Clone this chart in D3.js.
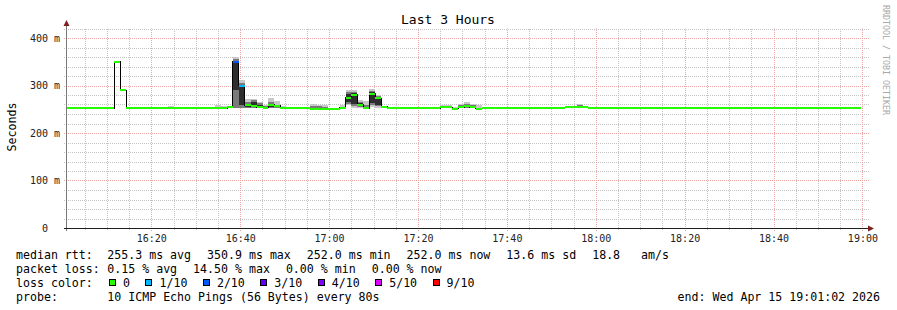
<!DOCTYPE html>
<html>
<head>
<meta charset="utf-8">
<script src="https://cdn.jsdelivr.net/npm/d3@7"></script>
<style>
  body { margin: 0; background: #fff; }
  svg { display: block; font-family: "DejaVu Sans Mono", monospace; }
</style>
</head>
<body>
<div id="chart"></div>
<script>
// chart data
const title = "Last 3 Hours";
const yTitle = "Seconds";
const endTime = new Date(2026, 3, 15, 19, 1, 2);
const stepSeconds = 80;

// median rtt per 80s step (ms)
const median = [
  252, 252, 252, 252, 252, 252, 252, 252, 350, 290,
  252, 252, 252, 252, 252, 252, 252, 252, 252, 252,
  252, 252, 252, 252, 252, 252, 252, 254, 350, 300,
  258, 256, 254, 253, 260, 257, 253, 252, 253, 253,
  252, 251, 251, 251, 251, 251, 253, 274, 281, 260,
  252, 283, 273, 255, 252, 252, 252, 252, 252, 252,
  252, 252, 252, 254, 254, 251, 254, 257, 254, 251,
  252, 252, 252, 252, 252, 252, 252, 252, 252, 252,
  252, 252, 252, 252, 254, 254, 254, 254, 252, 252,
  252, 252, 252, 252, 252, 252, 252, 252, 252, 252,
  252, 252, 252, 252, 252, 252, 252, 252, 252, 252,
  252, 252, 252, 252, 252, 252, 252, 252, 252, 252,
  252, 252, 252, 252, 252, 252, 252, 252, 252, 252,
  252, 252, 252, 252
];

// steps with lost pings (out of 10)
const lossSteps = [28, 29];
const lossCounts = [2, 1];

// smoke: spread of the pings for each step that has some
const smokeSteps = [17, 25, 26, 27, 28, 29, 30, 31, 32, 33, 34, 35, 36, 41, 42, 43, 46, 47, 48, 49, 50, 51, 52, 53, 63, 64, 65, 66, 67, 68, 69, 82, 85, 86, 100, 120];
const smokeLo = [252, 252, 252, 252, 252, 252, 252, 252, 252, 252, 252, 252, 252, 251, 251, 251, 252, 259, 252, 252, 251, 255, 253, 252, 252, 252, 251, 252, 252, 252, 251, 252, 252, 252, 252, 252];
const smokeHi = [257, 259, 256, 256, 360, 311, 272, 272, 266, 260, 274, 268, 256, 261, 260, 259, 258, 290, 290, 270, 267, 292, 281, 257, 260, 260, 255, 262, 266, 262, 260, 255, 256, 261, 255, 255];
const midLo = [null, null, null, null, 252, 253, 253, 252, 253, 252, 253, 253, null, 251, 251, 251, null, 262, 256, 254, 252, 258, 256, null, 253, 253, null, 253, 253, 253, null, null, null, 253, null, null];
const midHi = [null, null, null, null, 356, 306, 266, 270, 264, 257, 265, 260, null, 256, 256, 255, null, 287, 287, 266, 260, 289, 278, null, 257, 257, null, 259, 262, 259, null, null, null, 258, null, null];
const coreLo = [null, null, null, null, 290, 258, 255, 254, 254, null, 255, null, null, null, null, null, null, 266, 262, 256, null, 263, 260, null, null, null, null, null, 255, null, null, null, null, null, null, null];
const coreHi = [null, null, null, null, 352, 301, 262, 266, 260, null, 259, null, null, null, null, null, null, 282, 284, 263, null, 286, 276, null, null, null, null, null, 259, null, null, null, null, null, null, null];

const yTicks = [0, 100, 200, 300, 400];
const yTickLabels = ["0", "100 m", "200 m", "300 m", "400 m"];

const lossLabels = ["0", "1/10", "2/10", "3/10", "4/10", "5/10", "9/10"];
const lossLevels = [0, 1, 2, 3, 4, 5, 9];
const lossColors = ["#26ff00", "#00b8ff", "#0059ff", "#5e00ff", "#7e00ff", "#dd00ff", "#ff0000"];

const rttStats = ["255.3 ms avg", "350.9 ms max", "252.0 ms min", "252.0 ms now", "13.6 ms sd", "18.8   am/s"];
const lossStats = ["0.15 % avg", "14.50 % max", "0.00 % min", "0.00 % now"];
const probeText = "10 ICMP Echo Pings (56 Bytes) every 80s";
const endText = "end: Wed Apr 15 19:01:02 2026";
const watermark = "RRDTOOL / TOBI OETIKER";

// layout
const W = 897, H = 310;
const plot = { left: 67, right: 867, top: 28.5, bottom: 228 };

const svg = d3.select("#chart").append("svg")
  .attr("width", W)
  .attr("height", H);

svg.append("rect").attr("width", W).attr("height", H).attr("fill", "#fff");

const t0 = d3.timeSecond.offset(endTime, -3 * 3600);
const x = d3.scaleTime().domain([t0, endTime]).range([plot.left, plot.right]);
const y = d3.scaleLinear().domain([0, 420]).range([plot.bottom, plot.top]);
const stepTime = i => d3.timeSecond.offset(t0, i * stepSeconds);
const crisp = v => Math.round(v) + 0.5;
// keep runs of spaces in svg text
const keepSpaces = s => s.replace(/ /g, "\u00a0");

// grid
const grid = svg.append("g").attr("stroke-dasharray", "1,1").attr("stroke-width", 1);

const majorX = x.ticks(d3.timeMinute.every(20));
const minorX = x.ticks(d3.timeMinute.every(5)).filter(d => d.getMinutes() % 20 !== 0);
const minorY = y.ticks(21).filter(v => v % 100 !== 0);

grid.selectAll(".hminor").data(minorY).enter().append("line")
  .attr("x1", plot.left - 3).attr("x2", plot.right + 3)
  .attr("y1", d => crisp(y(d))).attr("y2", d => crisp(y(d)))
  .attr("stroke", "#c4c4c4");

grid.selectAll(".vminor").data(minorX).enter().append("line")
  .attr("x1", d => crisp(x(d))).attr("x2", d => crisp(x(d)))
  .attr("y1", plot.bottom + 2).attr("y2", plot.top)
  .attr("stroke", "#c4c4c4");

grid.selectAll(".hmajor").data(yTicks.filter(v => v > 0)).enter().append("line")
  .attr("x1", plot.left - 3).attr("x2", plot.right + 3)
  .attr("y1", d => crisp(y(d))).attr("y2", d => crisp(y(d)))
  .attr("stroke", "#eda3a3");

grid.selectAll(".vmajor").data(majorX).enter().append("line")
  .attr("x1", d => crisp(x(d))).attr("x2", d => crisp(x(d)))
  .attr("y1", plot.bottom + 3).attr("y2", plot.top)
  .attr("stroke", "#eda3a3");

// smoke
const smoke = svg.append("g").attr("shape-rendering", "crispEdges");
const smokeLayers = [
  { lo: smokeLo, hi: smokeHi, color: "#c8c8c8" },
  { lo: midLo, hi: midHi, color: "#7a7a7a" },
  { lo: coreLo, hi: coreHi, color: "#2e2e2e" }
];
smokeLayers.forEach(layer => {
  const rows = smokeSteps.map((s, i) => ({ s, lo: layer.lo[i], hi: layer.hi[i] }))
    .filter(d => d.lo != null);
  smoke.selectAll(null).data(rows).enter().append("rect")
    .attr("x", d => x(stepTime(d.s)))
    .attr("width", d => x(stepTime(d.s + 1)) - x(stepTime(d.s)))
    .attr("y", d => y(d.hi))
    .attr("height", d => y(d.lo) - y(d.hi))
    .attr("fill", layer.color);
});

// median line (black step line) then loss-coloured bars
const pts = median.map((v, i) => [x(stepTime(i)), y(v)]);
pts.push([x(stepTime(median.length)), y(median[median.length - 1])]);

svg.append("path")
  .attr("d", d3.line().curve(d3.curveStepAfter)(pts))
  .attr("fill", "none")
  .attr("stroke", "#000")
  .attr("stroke-width", 1)
  .attr("shape-rendering", "crispEdges");

const lossOf = i => {
  const k = lossSteps.indexOf(i);
  return k < 0 ? 0 : lossCounts[k];
};
const lossColor = n => lossColors[lossLevels.indexOf(n)];

svg.append("g").attr("shape-rendering", "crispEdges")
  .selectAll("rect").data(median).enter().append("rect")
  .attr("x", (d, i) => x(stepTime(i)))
  .attr("width", (d, i) => x(stepTime(i + 1)) - x(stepTime(i)))
  .attr("y", d => y(d) - 1)
  .attr("height", 2)
  .attr("fill", (d, i) => lossColor(lossOf(i)));

// axes lines and arrows
svg.append("line")
  .attr("x1", plot.left - 0.5).attr("x2", plot.left - 0.5)
  .attr("y1", plot.bottom + 3).attr("y2", 24)
  .attr("stroke", "#7a7a7a");
svg.append("line")
  .attr("x1", plot.left - 3).attr("x2", plot.right + 3)
  .attr("y1", plot.bottom + 0.5).attr("y2", plot.bottom + 0.5)
  .attr("stroke", "#1f1f1f");
svg.append("path")
  .attr("d", `M${plot.left - 3.5},26 L${plot.left - 0.5},20 L${plot.left + 2.5},26 Z`)
  .attr("fill", "#7f1f1f");
svg.append("path")
  .attr("d", `M${plot.right + 1},${plot.bottom - 2.5} L${plot.right + 7},${plot.bottom + 0.5} L${plot.right + 1},${plot.bottom + 3.5} Z`)
  .attr("fill", "#7f1f1f");

// tick labels
const yAxis = svg.append("g")
  .attr("transform", `translate(${plot.left}, 0)`)
  .call(d3.axisLeft(y).tickValues(yTicks)
    .tickFormat((d, i) => yTickLabels[i] + (d === 0 ? "\u00a0\u00a0" : ""))
    .tickSize(0).tickPadding(7));
yAxis.select(".domain").remove();
yAxis.attr("font-family", "DejaVu Sans Mono, monospace").attr("font-size", 10).style("color", "#222");

const xAxis = svg.append("g")
  .attr("transform", `translate(0, ${plot.bottom})`)
  .call(d3.axisBottom(x).tickValues(majorX).tickFormat(d3.timeFormat("%H:%M"))
    .tickSize(0).tickPadding(6.5));
xAxis.select(".domain").remove();
xAxis.attr("font-family", "DejaVu Sans Mono, monospace").attr("font-size", 10).style("color", "#222");

// titles
svg.append("text")
  .attr("x", 448).attr("y", 19)
  .attr("dy", "0.35em")
  .attr("text-anchor", "middle")
  .attr("font-size", 13)
  .text(title);

svg.append("text")
  .attr("transform", "translate(12, 127) rotate(-90)")
  .attr("dy", "0.35em")
  .attr("text-anchor", "middle")
  .attr("font-size", 11.6)
  .text(yTitle);

svg.append("text")
  .attr("transform", "translate(886, 5) rotate(90)")
  .attr("dy", "0.35em")
  .attr("font-size", 8.3)
  .attr("fill", "#a8a8a8")
  .text(watermark);

// legend
const legend = svg.append("g").attr("font-size", 11.6);
const rowY = [255, 269, 283, 297];
const labelX = 16, valueX = 107.3, gap = 16;

function flowRow(cy, items) {
  let cx = valueX;
  items.forEach(s => {
    const t = legend.append("text").attr("x", cx).attr("y", cy).attr("dy", "0.35em").text(keepSpaces(s));
    cx += t.node().getComputedTextLength() + gap;
  });
}

["median rtt:", "packet loss:", "loss color:", "probe:"].forEach((s, i) => {
  legend.append("text").attr("x", labelX).attr("y", rowY[i]).attr("dy", "0.35em").text(s);
});
flowRow(rowY[0], rttStats);
flowRow(rowY[1], lossStats);
flowRow(rowY[3], [probeText]);

let bx = 109;
lossLabels.forEach((s, i) => {
  legend.append("rect")
    .attr("x", Math.round(bx) + 0.5).attr("y", rowY[2] - 3.5)
    .attr("width", 6).attr("height", 6)
    .attr("fill", lossColors[i]).attr("stroke", "#000");
  const t = legend.append("text").attr("x", bx + 14).attr("y", rowY[2]).attr("dy", "0.35em").text(s);
  bx += 14 + t.node().getComputedTextLength() + 15.5;
});

legend.append("text")
  .attr("x", 880).attr("y", rowY[3]).attr("dy", "0.35em")
  .attr("text-anchor", "end")
  .text(endText);
</script>
</body>
</html>
